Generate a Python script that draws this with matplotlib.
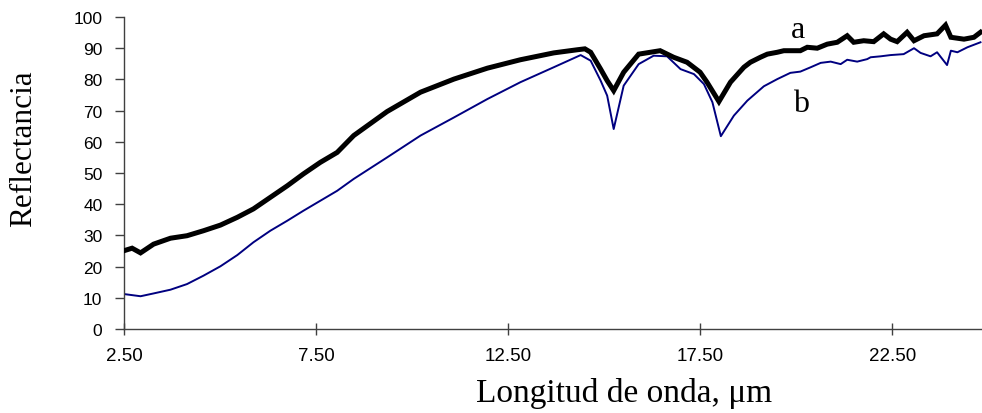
import matplotlib
matplotlib.use("Agg")
import matplotlib.pyplot as plt

# Curve a (black)
a_x = [2.5, 2.71, 2.93, 3.27, 3.71, 4.14, 4.57, 5.01, 5.45, 5.87, 6.31, 6.75, 7.17, 7.61,
       8.05, 8.48, 9.35, 10.22, 11.09, 11.96, 12.82, 13.69, 14.3, 14.5, 14.65, 14.91,
       15.08, 15.25, 15.51, 15.9, 16.46, 16.81, 17.16, 17.5, 17.68, 17.99, 18.29, 18.64,
       18.81, 19.07, 19.25, 19.51, 19.68, 20.11, 20.29, 20.55, 20.81, 21.07, 21.33, 21.5,
       21.76, 22.02, 22.28, 22.46, 22.63, 22.89, 23.07, 23.33, 23.67, 23.89, 24.03, 24.37,
       24.63, 24.8]
a_y = [25.1, 25.9, 24.4, 27.2, 29.1, 29.9, 31.5, 33.3, 35.8, 38.5, 42.2, 45.9, 49.7, 53.4,
       56.6, 62.0, 69.7, 75.9, 80.1, 83.6, 86.3, 88.5, 89.5, 89.8, 88.7, 83.3,
       79.6, 76.4, 82.3, 88.1, 89.2, 87.1, 85.5, 82.3, 79.1, 72.9, 79.1, 83.9,
       85.5, 87.1, 88.1, 88.7, 89.2, 89.2, 90.3, 90.0, 91.3, 91.9, 94.0, 91.9,
       92.4, 92.1, 94.6, 92.9, 92.1, 95.1, 92.4, 94.0, 94.6, 97.4, 93.5, 92.9,
       93.5, 95.1]

# Curve b (blue)
b_x = [2.5, 2.93, 3.27, 3.71, 4.14, 4.57, 5.01, 5.45, 5.87, 6.31, 6.75, 7.17, 7.61, 8.05,
       8.48, 9.35, 10.22, 11.09, 11.96, 12.82, 13.69, 14.39, 14.65, 14.91, 15.08, 15.25,
       15.51, 15.9, 16.29, 16.64, 16.99, 17.34, 17.6, 17.82, 18.04, 18.38, 18.73, 19.16,
       19.51, 19.85, 20.11, 20.38, 20.64, 20.9, 21.16, 21.33, 21.59, 21.85, 21.94, 22.2,
       22.46, 22.8, 23.07, 23.24, 23.5, 23.67, 23.93, 24.03, 24.2, 24.46, 24.8]
b_y = [11.2, 10.5, 11.4, 12.6, 14.4, 17.1, 20.1, 23.7, 27.8, 31.5, 34.7, 37.9, 41.1, 44.3,
       48.1, 55.0, 62.0, 67.8, 73.7, 79.1, 83.9, 87.8, 86.0, 79.6, 74.8, 64.1,
       78.0, 84.9, 87.6, 87.4, 83.3, 81.7, 78.5, 72.7, 61.8, 68.4, 73.2, 77.8,
       80.1, 82.1, 82.5, 83.9, 85.3, 85.7, 84.9, 86.3, 85.7, 86.5, 87.1, 87.4,
       87.8, 88.1, 90.0, 88.5, 87.4, 88.7, 84.6, 89.2, 88.7, 90.3, 91.9]

x_ticks = [2.5, 7.5, 12.5, 17.5, 22.5]
x_tick_labels = ["2.50", "7.50", "12.50", "17.50", "22.50"]
y_ticks = [0, 10, 20, 30, 40, 50, 60, 70, 80, 90, 100]

fig = plt.figure(figsize=(9.82, 4.14), dpi=100)
ax = fig.add_axes([0.1263, 0.2029, 0.8737, 0.7536])

ax.plot(b_x, b_y, color="#000080", lw=1.4, zorder=2)
ax.plot(a_x, a_y, color="black", lw=3.6, zorder=3, solid_joinstyle="miter")

ax.set_xlim(2.5, 24.84)
ax.set_ylim(0, 100)
ax.set_xticks(x_ticks)
ax.set_xticklabels(x_tick_labels, fontfamily="Liberation Sans", fontsize=13.5)
ax.set_yticks(y_ticks)
ax.set_yticklabels([str(v) for v in y_ticks], fontfamily="Liberation Sans", fontsize=12.5)

for s in ["top", "right"]:
    ax.spines[s].set_visible(False)
for s in ["left", "bottom"]:
    ax.spines[s].set_color("#404040")
    ax.spines[s].set_linewidth(1.0)
    ax.spines[s].set_clip_on(False)

ax.tick_params(axis="y", direction="out", length=6.5, width=1.0, color="#404040", pad=9)
ax.tick_params(axis="x", direction="inout", length=8, width=1.0, color="#404040", pad=9)

ax.text(20.04, 93.6, "a", fontfamily="Liberation Serif", fontsize=23, ha="center", va="baseline")
ax.text(20.13, 69.9, "b", fontfamily="Liberation Serif", fontsize=23, ha="center", va="baseline")

fig.text(0.0244, 0.641, "Reflectancia", rotation=90, fontfamily="Liberation Serif",
         fontsize=22.5, ha="center", va="center")
fig.text(624.5 / 982, 0.029, "Longitud de onda, \u03bcm", fontfamily="Liberation Serif",
         fontsize=24, ha="center", va="baseline")

fig.savefig("out.png", dpi=100)
